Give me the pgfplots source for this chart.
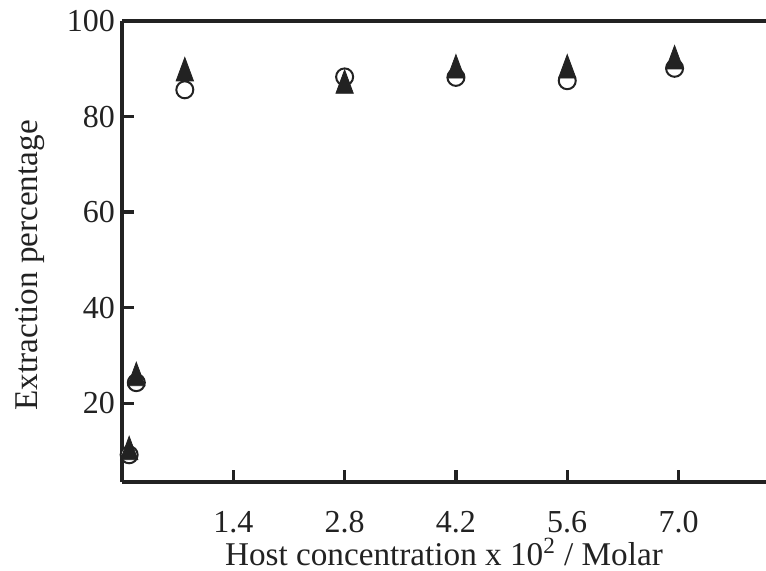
\documentclass[border=0pt]{standalone}
\usepackage{fontspec}
\setmainfont{Liberation Serif}
\usepackage{pgfplots}
\pgfplotsset{compat=1.18}
\usetikzlibrary{calc}
\definecolor{ink}{HTML}{222222}
\begin{document}
\begin{tikzpicture}
\begin{axis}[
  name=ax, scale only axis, width=322pt, height=230.5pt,
  xmin=0, xmax=8.1, ymin=3.5, ymax=100,
  axis x line=box, axis y line=left,
  axis line style={-, line width=2pt, ink},
  xtick={1.4,2.8,4.2,5.6,7.0}, xticklabels={1.4,2.8,4.2,5.6,7.0},
  ytick={20,40,60,80,100}, xtick pos=bottom, ytick pos=left,
  tick align=inside, major tick length=6pt,
  tick style={line width=1.6pt, ink},
  /pgf/number format/assume math mode=true,
  tick label style={font=\fontsize{16}{19}\selectfont, ink},
  xticklabel style={inner sep=1pt, yshift=-13.5pt},
  label style={font=\fontsize{16.6}{20}\selectfont, ink},
  xlabel={Host concentration x 10\textsuperscript{2} / Molar},
  ylabel={Extraction percentage},
  xlabel style={at={(axis description cs:0.5,-0.182)}, anchor=base, inner sep=0pt},
  ylabel style={at={(axis description cs:-0.143,0.47)}, anchor=center},
  clip=false]
% open circles
\addplot[only marks, mark=*, mark size=4.25pt,
  mark options={line width=1pt, fill=white, draw=ink}] coordinates {
  (0.09,9.2) (0.18,24.3) (0.79,85.6) (2.8,88.3) (4.2,88.2) (5.6,87.5) (6.95,90.1)};
% filled triangles
\addplot[only marks, mark=triangle*, mark size=5pt,
  mark options={yscale=1.56, fill=ink, draw=ink}] coordinates {
  (0.09,9.8) (0.18,25.3) (0.79,89.1) (2.8,86.5) (4.2,89.7) (5.6,89.7) (6.95,91.6)};
\end{axis}
\pgfresetboundingbox
\path ($(ax.south west)+(-61pt,-44pt)$) rectangle ($(ax.north east)+(0,10.5pt)$);
\end{tikzpicture}
\end{document}
